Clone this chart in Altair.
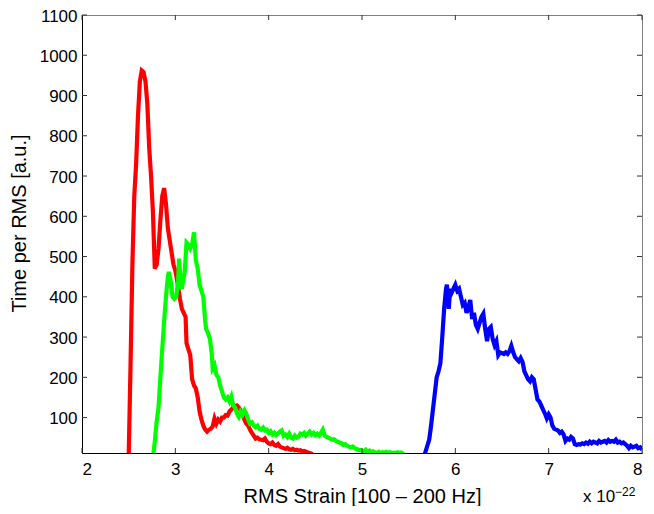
import altair as alt
import pandas as pd

# ---- data ----
red_x = [2.50, 2.52, 2.54, 2.56, 2.58, 2.60, 2.62, 2.64, 2.66, 2.68, 2.70, 2.72, 2.74, 2.76, 2.78,
         2.80, 2.82, 2.84, 2.86, 2.88, 2.90, 2.92, 2.94, 2.96, 2.98, 3.00, 3.02, 3.04, 3.05, 3.07,
         3.09, 3.11, 3.12, 3.14, 3.16, 3.18, 3.20, 3.22, 3.24, 3.26, 3.28, 3.30, 3.32, 3.34, 3.36,
         3.38, 3.40, 3.42, 3.44, 3.46, 3.48, 3.50, 3.52, 3.54, 3.56, 3.58, 3.60, 3.62, 3.64, 3.66,
         3.68, 3.70, 3.72, 3.74, 3.76, 3.78, 3.80, 3.82, 3.84, 3.86, 3.88, 3.90, 3.92, 3.94, 3.96,
         3.98, 4.00, 4.02, 4.04, 4.06, 4.08, 4.10, 4.12, 4.14, 4.16, 4.18, 4.20, 4.22, 4.24, 4.26,
         4.28, 4.30, 4.32, 4.34, 4.36, 4.38, 4.40, 4.42, 4.44, 4.46, 4.48]
red_y = [0, 230, 480, 650, 730, 850, 935, 962, 958, 935, 880, 770, 700, 610, 470,
         480, 520, 590, 650, 670, 630, 570, 540, 510, 480, 465, 440, 410, 395, 370,
         360, 350, 285, 270, 255, 195, 180, 172, 150, 115, 95, 80, 70, 65, 70,
         72, 78, 98, 85, 95, 90, 100, 100, 106, 105, 115, 120, 125, 128, 130,
         125, 118, 108, 95, 85, 80, 70, 62, 55, 48, 50, 46, 45, 44, 48,
         40, 36, 34, 38, 32, 30, 34, 28, 26, 24, 22, 25, 21, 20, 22,
         19, 20, 18, 19, 16, 17, 15, 13, 12, 10, 5]

green_x = [2.76, 2.78, 2.80, 2.82, 2.84, 2.86, 2.88, 2.90, 2.92, 2.93, 2.95, 2.97, 2.99, 3.01, 3.03,
           3.04, 3.06, 3.07, 3.09, 3.10, 3.12, 3.14, 3.16, 3.18, 3.20, 3.22, 3.24, 3.26, 3.28, 3.30,
           3.32, 3.33, 3.35, 3.37, 3.39, 3.40, 3.42, 3.44, 3.46, 3.48, 3.50, 3.52, 3.54, 3.56, 3.58,
           3.60, 3.62, 3.64, 3.66, 3.68, 3.70, 3.72, 3.74, 3.76, 3.78, 3.80, 3.82, 3.84, 3.86, 3.88,
           3.90, 3.92, 3.94, 3.96, 3.98, 4.00, 4.02, 4.04, 4.06, 4.08, 4.10, 4.12, 4.14, 4.16, 4.18,
           4.20, 4.22, 4.24, 4.26, 4.28, 4.30, 4.32, 4.34, 4.36, 4.38, 4.40, 4.42, 4.44, 4.46, 4.48,
           4.50, 4.52, 4.54, 4.56, 4.58, 4.60, 4.62, 4.64, 4.66, 4.68, 4.70, 4.72, 4.74, 4.76, 4.78,
           4.80, 4.82, 4.84, 4.86, 4.88, 4.90, 4.92, 4.94, 4.96, 4.98, 5.00, 5.02, 5.04, 5.06, 5.08,
           5.10, 5.12, 5.14, 5.16, 5.18, 5.20, 5.22, 5.24, 5.26, 5.28, 5.30, 5.32, 5.34, 5.36, 5.38,
           5.40, 5.42, 5.44, 5.46]
green_y = [0, 40, 90, 125, 200, 270, 340, 400, 450, 462, 440, 400, 395, 400, 440,
           495, 430, 420, 450, 460, 535, 530, 520, 530, 560, 490, 470, 430, 415, 400,
           340, 320, 310, 296, 260, 222, 230, 206, 200, 180, 165, 150, 145, 150, 140,
           152, 130, 125, 110, 102, 115, 108, 118, 110, 95, 85, 88, 80, 76, 80,
           72, 70, 75, 68, 70, 62, 66, 58, 62, 56, 60, 65, 68, 55, 58,
           52, 60, 50, 48, 55, 50, 52, 60, 58, 62, 55, 60, 65, 58, 62,
           56, 60, 55, 62, 70, 55, 52, 50, 48, 45, 46, 42, 40, 38, 36,
           32, 34, 30, 28, 26, 28, 24, 22, 20, 20, 18, 16, 20, 15, 18,
           14, 16, 13, 12, 15, 11, 14, 13, 15, 12, 14, 11, 13, 12, 14,
           12, 13, 10, 5]

blue_x = [5.66, 5.68, 5.70, 5.72, 5.74, 5.76, 5.78, 5.80, 5.82, 5.84, 5.86, 5.88, 5.90, 5.91, 5.92,
          5.93, 5.94, 5.95, 5.96, 5.98, 6.00, 6.02, 6.04, 6.06, 6.08, 6.10, 6.12, 6.14, 6.16, 6.18,
          6.20, 6.22, 6.24, 6.26, 6.28, 6.30, 6.32, 6.34, 6.36, 6.38, 6.40, 6.42, 6.44, 6.46, 6.48,
          6.50, 6.52, 6.54, 6.56, 6.58, 6.60, 6.62, 6.64, 6.66, 6.68, 6.70, 6.72, 6.74, 6.76, 6.78,
          6.80, 6.82, 6.84, 6.86, 6.88, 6.90, 6.92, 6.94, 6.96, 6.98, 7.00, 7.02, 7.04, 7.06, 7.08,
          7.10, 7.12, 7.14, 7.16, 7.18, 7.20, 7.22, 7.24, 7.26, 7.28, 7.30, 7.32, 7.34, 7.36, 7.38,
          7.40, 7.42, 7.44, 7.46, 7.48, 7.50, 7.52, 7.54, 7.56, 7.58, 7.60, 7.62, 7.64, 7.66, 7.68,
          7.70, 7.72, 7.74, 7.76, 7.78, 7.80, 7.82, 7.84, 7.86, 7.88, 7.90, 7.92, 7.94, 7.96, 7.98,
          8.00]
blue_y = [0, 15, 30, 45, 80, 120, 160, 200, 215, 235, 300, 370, 420, 430, 395,
          370, 405, 420, 410, 420, 430, 415, 420, 400, 380, 385, 360, 375, 392, 345,
          360, 330, 320, 335, 350, 358, 320, 290, 320, 325, 295, 280, 290, 255, 262,
          260, 258, 262, 258, 265, 278, 262, 250, 245, 240, 248, 238, 215, 205, 195,
          190, 200, 195, 170, 145, 140, 130, 120, 110, 98, 108, 100, 80, 72, 70,
          68, 62, 65, 58, 42, 48, 45, 52, 48, 34, 32, 34, 33, 36, 34,
          38, 35, 40, 36, 40, 38, 36, 42, 38, 40, 42, 38, 44, 40, 42,
          40, 45, 38, 40, 36, 38, 34, 30, 24, 30, 26, 28, 30, 24, 26,
          20]

series_names = ["red", "green", "blue"]
series_colors = ["#ff0000", "#00ff00", "#0000ff"]

x_ticks = [2, 3, 4, 5, 6, 7, 8]
y_ticks = [100, 200, 300, 400, 500, 600, 700, 800, 900, 1000, 1100]
x_domain = [2, 8]
y_domain = [12, 1100]

x_title = "RMS Strain [100 \u2013 200 Hz]"
y_title = "Time per RMS [a.u.]"
exp_base = "x 10"
exp_power = "\u221222"

# ---- build tables ----
rows = []
for name, xs_, ys_ in [("red", red_x, red_y), ("green", green_x, green_y), ("blue", blue_x, blue_y)]:
    for i, (a, b) in enumerate(zip(xs_, ys_)):
        rows.append({"x": a, "y": b, "series": name, "i": i})
df = pd.DataFrame(rows)

W, H = 560, 438
FONT = "Liberation Sans"

xs = alt.Scale(domain=x_domain, nice=False, zero=False)
ys = alt.Scale(domain=y_domain, nice=False, zero=False)
x_axis = alt.Axis(values=x_ticks, format="d", title=x_title, labelPadding=8,
                  titleBaseline="alphabetic", titleY=49)
y_axis = alt.Axis(values=y_ticks, format="d", title=y_title, labelPadding=5, labelOffset=1,
                  titleBaseline="alphabetic", titleX=-57, titleY=208)

lines = alt.Chart(df).mark_line(strokeWidth=4.2, clip=True).encode(
    x=alt.X("x:Q", scale=xs, axis=x_axis),
    y=alt.Y("y:Q", scale=ys, axis=y_axis),
    color=alt.Color("series:N", scale=alt.Scale(domain=series_names, range=series_colors), legend=None),
    detail="series:N",
    order="i:Q",
)

xt = pd.DataFrame({"x": x_ticks})
yt = pd.DataFrame({"y": y_ticks})
tick_col = "#333333"
xtick_b = alt.Chart(xt).mark_rule(color=tick_col, strokeWidth=1).encode(
    x=alt.X("x:Q", scale=xs, axis=x_axis), y=alt.value(H), y2=alt.value(H - 5))
xtick_t = alt.Chart(xt).mark_rule(color=tick_col, strokeWidth=1).encode(
    x=alt.X("x:Q", scale=xs, axis=x_axis), y=alt.value(0), y2=alt.value(5))
ytick_l = alt.Chart(yt).mark_rule(color=tick_col, strokeWidth=1).encode(
    y=alt.Y("y:Q", scale=ys, axis=y_axis), x=alt.value(0), x2=alt.value(5))
ytick_r = alt.Chart(yt).mark_rule(color=tick_col, strokeWidth=1).encode(
    y=alt.Y("y:Q", scale=ys, axis=y_axis), x=alt.value(W), x2=alt.value(W - 5))

exp_df = pd.DataFrame({"t": [exp_base]})
exp_df2 = pd.DataFrame({"t": [exp_power]})
exp1 = alt.Chart(exp_df).mark_text(font=FONT, fontSize=17, align="left", baseline="bottom",
                                   color="black").encode(
    text="t:N", x=alt.value(501), y=alt.value(491))
exp2 = alt.Chart(exp_df2).mark_text(font=FONT, fontSize=12, align="left", baseline="alphabetic",
                                    color="black").encode(
    text="t:N", x=alt.value(533), y=alt.value(481))

chart = alt.layer(lines, xtick_b, xtick_t, ytick_l, ytick_r, exp1, exp2).properties(
    width=W, height=H,
    background="white",
    autosize=alt.AutoSizeParams(type="none"),
    padding={"left": 74, "top": 7, "right": 4, "bottom": 53},
).configure_view(
    stroke="#808080", strokeWidth=1
).configure_axis(
    grid=False, ticks=False, domain=True, domainColor="black", domainWidth=1,
    labelFont=FONT, labelFontSize=17, labelColor="black",
    titleFont=FONT, titleFontSize=20, titleFontWeight="normal", titleColor="black",
)

chart.save("out.html", embed_options={"renderer": "svg", "actions": False})
